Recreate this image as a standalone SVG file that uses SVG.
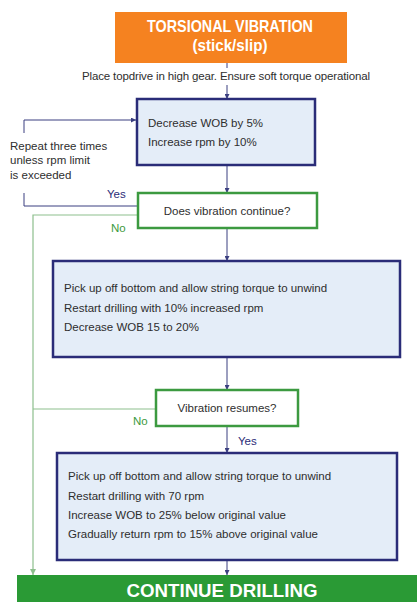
<svg xmlns="http://www.w3.org/2000/svg" width="417" height="602" viewBox="0 0 417 602">
<defs>
<style>
.t{font-family:"Liberation Sans Narrow","Liberation Sans",Arial,sans-serif;font-size:11.5px;fill:#2e2e2e}
.h{font-family:"Liberation Sans Narrow","Liberation Sans",Arial,sans-serif;font-weight:bold;fill:#ffffff;text-anchor:middle}
.proc{fill:#E4EDF8;stroke:#2A2C78;stroke-width:2.5}
.dec{fill:#ffffff;stroke:#3C9A40;stroke-width:2.5}
.nv{stroke:#3B3F80;stroke-width:1;fill:none}
.gr{stroke:#8DBF8D;stroke-width:1.2;fill:none}
.yes{fill:#2A2C78}
.no{fill:#3C9A40}
</style>
<marker id="an" viewBox="0 0 6 6" refX="6" refY="3" markerWidth="5" markerHeight="5" orient="auto"><path d="M0,0 L6,3 L0,6 z" fill="#3B3F80"/></marker>
<marker id="ag" viewBox="0 0 6 6" refX="6" refY="3" markerWidth="5" markerHeight="5" orient="auto"><path d="M0,0 L6,3 L0,6 z" fill="#8DBF8D"/></marker>
</defs>
<rect width="417" height="602" fill="#ffffff"/>
<g id="connectors">
<path class="nv" d="M227,63 V68"/>
<path class="nv" d="M227,85 V99" marker-end="url(#an)"/>
<path class="nv" d="M227,165 V193" marker-end="url(#an)"/>
<path class="nv" d="M227,228 V261" marker-end="url(#an)"/>
<path class="nv" d="M227,357 V390" marker-end="url(#an)"/>
<path class="nv" d="M227,426 V453" marker-end="url(#an)"/>
<path class="nv" d="M227,560 V575" marker-end="url(#an)"/>
<path class="nv" d="M138,206 H24 V193"/>
<path class="nv" d="M24,133 V120 H136" marker-end="url(#an)"/>
<path class="gr" d="M138,215 H33 V575" marker-end="url(#ag)"/>
<path class="gr" d="M156,409 H33"/>
<text class="t yes" x="107" y="198" font-size="12">Yes</text>
<text class="t no" x="111" y="232" font-size="12">No</text>
<text class="t no" x="133" y="425" font-size="12">No</text>
<text class="t yes" x="238" y="445" font-size="12">Yes</text>
</g>
<g id="start">
<rect x="115" y="12" width="232" height="51" fill="#F58220"/>
<text class="h" x="230" y="32" font-size="17" textLength="166" lengthAdjust="spacingAndGlyphs">TORSIONAL VIBRATION</text>
<text class="h" x="230" y="51" font-size="17" textLength="75" lengthAdjust="spacingAndGlyphs">(stick/slip)</text>
</g>
<g id="note">
<text class="t" x="226" y="80" text-anchor="middle" textLength="288">Place topdrive in high gear. Ensure soft torque operational</text>
</g>
<g id="step1">
<rect class="proc" x="137" y="99" width="178" height="66"/>
<text class="t" x="148" y="127">Decrease WOB by 5%</text>
<text class="t" x="148" y="146">Increase rpm by 10%</text>
</g>
<g id="repeat">
<text class="t" x="10" y="150">Repeat three times</text>
<text class="t" x="10" y="164">unless rpm limit</text>
<text class="t" x="10" y="179">is exceeded</text>
</g>
<g id="decision1">
<rect class="dec" x="138" y="193" width="179" height="35"/>
<text class="t" x="227" y="215" text-anchor="middle">Does vibration continue?</text>
</g>
<g id="step2">
<rect class="proc" x="53" y="261" width="347" height="96"/>
<text class="t" x="64" y="292">Pick up off bottom and allow string torque to unwind</text>
<text class="t" x="64" y="312">Restart drilling with 10% increased rpm</text>
<text class="t" x="64" y="331">Decrease WOB 15 to 20%</text>
</g>
<g id="decision2">
<rect class="dec" x="156" y="390" width="142" height="36"/>
<text class="t" x="227" y="412" text-anchor="middle">Vibration resumes?</text>
</g>
<g id="step3">
<rect class="proc" x="57" y="453" width="340" height="107"/>
<text class="t" x="68" y="480">Pick up off bottom and allow string torque to unwind</text>
<text class="t" x="68" y="500">Restart drilling with 70 rpm</text>
<text class="t" x="68" y="519">Increase WOB to 25% below original value</text>
<text class="t" x="68" y="538">Gradually return rpm to 15% above original value</text>
</g>
<g id="end">
<rect x="17" y="575" width="400" height="27" fill="#2A9A35"/>
<text class="h" x="222" y="597" font-size="19" textLength="191" lengthAdjust="spacingAndGlyphs">CONTINUE DRILLING</text>
</g>
</svg>
